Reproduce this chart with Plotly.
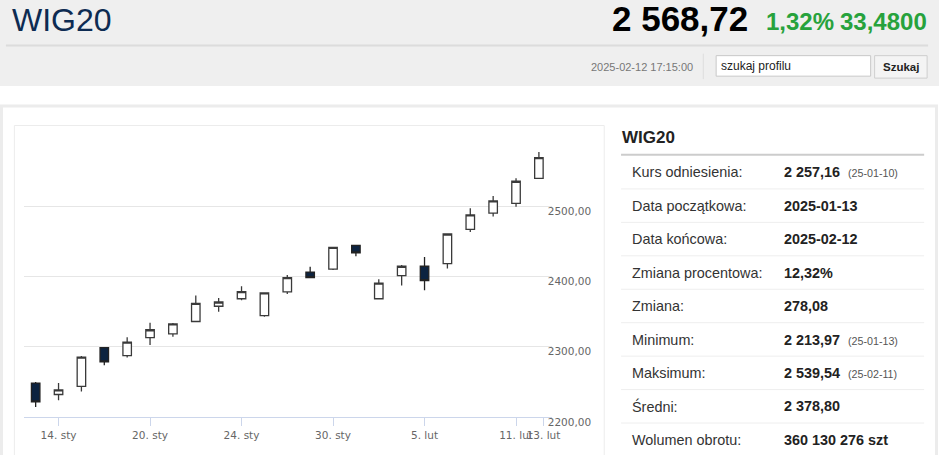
import plotly.graph_objects as go

# WIG20 daily candles, 2025-01-13 .. 2025-02-12
dates = ["2025-01-13", "2025-01-14", "2025-01-15", "2025-01-16", "2025-01-17",
         "2025-01-20", "2025-01-21", "2025-01-22", "2025-01-23", "2025-01-24",
         "2025-01-27", "2025-01-28", "2025-01-29", "2025-01-30", "2025-01-31",
         "2025-02-03", "2025-02-04", "2025-02-05", "2025-02-06", "2025-02-07",
         "2025-02-10", "2025-02-11", "2025-02-12"]
open_ = [2248.2, 2231.9, 2243.5, 2298.6, 2287.1, 2312.9, 2318.1, 2335.7, 2357.4, 2368.1,
         2344.0, 2377.8, 2406.0, 2410.2, 2444.0, 2368.1, 2401.0, 2414.3, 2418.1, 2466.7,
         2489.9, 2503.7, 2539.3]
high = [2249.5, 2248.2, 2286.5, 2299.5, 2313.5, 2333.8, 2333.5, 2372.6, 2369.0, 2385.7,
        2377.0, 2401.8, 2413.5, 2442.0, 2444.5, 2395.8, 2416.2, 2427.4, 2461.0, 2496.8,
        2514.3, 2539.54, 2576.8]
low = [2213.97, 2223.6, 2236.1, 2273.6, 2284.7, 2302.4, 2313.9, 2335.0, 2349.6, 2366.0,
       2342.6, 2375.0, 2397.5, 2409.0, 2428.7, 2367.0, 2387.1, 2380.1, 2411.1, 2462.9,
       2485.1, 2499.0, 2538.8]
close = [2221.3, 2238.5, 2285.1, 2278.2, 2306.5, 2324.0, 2332.4, 2361.5, 2363.5, 2378.2,
         2376.4, 2398.2, 2398.2, 2441.2, 2433.3, 2390.3, 2414.3, 2394.0, 2460.2, 2487.5,
         2507.4, 2535.24, 2568.72]

x_tick_pos = [1, 5, 9, 13, 17, 21, 22.2]
x_tick_text = ["14. sty", "20. sty", "24. sty", "30. sty", "5. lut", "11. lut", "13. lut"]
y_tick_vals = [2200, 2300, 2400, 2500, 2600]
y_tick_text = ["2200,00", "2300,00", "2400,00", "2500,00", ""]

# header
index_name = "WIG20"
last_value = "2 568,72"
change_pct = "1,32%"
change_abs = "33,4800"
timestamp = "2025-02-12 17:15:00"

# side panel
panel_labels = ["Kurs odniesienia:", "Data początkowa:", "Data końcowa:", "Zmiana procentowa:",
                "Zmiana:", "Minimum:", "Maksimum:", "Średni:", "Wolumen obrotu:"]
panel_values = ["2 257,16", "2025-01-13", "2025-02-12", "12,32%", "278,08",
                "2 213,97", "2 539,54", "2 378,80", "360 130 276 szt"]
panel_notes = ["(25-01-10)", "", "", "", "", "(25-01-13)", "(25-02-11)", "", ""]

W, H = 948, 466


def px(x):
    return x / W


def py(y):
    return 1 - y / H


xs = list(range(len(dates)))

fig = go.Figure(go.Candlestick(
    x=xs, open=open_, high=high, low=low, close=close,
    increasing=dict(fillcolor="white", line=dict(color="#3a3a3a", width=1.3)),
    decreasing=dict(fillcolor="#0c2340", line=dict(color="#222222", width=1.3)),
    whiskerwidth=0,
    showlegend=False,
))

shapes = []
# header band
shapes.append(dict(type="rect", xref="paper", yref="paper", x0=0, x1=1, y0=py(88), y1=1,
                   fillcolor="#efefef", line_width=0, layer="below"))
shapes.append(dict(type="line", xref="paper", yref="paper", x0=px(6), x1=px(937), y0=py(46.5), y1=py(46.5),
                   line=dict(color="#dcdcdc", width=2), layer="below"))
shapes.append(dict(type="line", xref="paper", yref="paper", x0=px(710), x1=px(710), y0=py(55), y1=py(81),
                   line=dict(color="#dddddd", width=1), layer="below"))
# search box + button
shapes.append(dict(type="rect", xref="paper", yref="paper", x0=px(723), x1=px(879), y0=py(78), y1=py(57),
                   fillcolor="white", line=dict(color="#c8c8c8", width=1), layer="below"))
shapes.append(dict(type="rect", xref="paper", yref="paper", x0=px(883), x1=px(936), y0=py(80), y1=py(57),
                   fillcolor="#f4f4f4", line=dict(color="#cfcfcf", width=1), layer="below"))
# outer container (open at the bottom edge)
shapes.append(dict(type="path", xref="paper", yref="paper",
                   path=f"M {px(1.5)},0 L {px(1.5)},{py(108.5)} L {px(945.5)},{py(108.5)} L {px(945.5)},0",
                   line=dict(color="#ececec", width=3), layer="below"))
# chart box
shapes.append(dict(type="path", xref="paper", yref="paper",
                   path=f"M {px(14.5)},0 L {px(14.5)},{py(128.5)} L {px(610)},{py(128.5)} L {px(610)},0",
                   line=dict(color="#ececec", width=1), layer="below"))
# panel separators
shapes.append(dict(type="line", xref="paper", yref="paper", x0=px(627), x1=px(933), y0=py(158.5), y1=py(158.5),
                   line=dict(color="#cccccc", width=2), layer="below"))
for i in range(len(panel_labels) - 1):
    yy = 193.5 + i * 34.25
    shapes.append(dict(type="line", xref="paper", yref="paper", x0=px(627), x1=px(933), y0=py(yy), y1=py(yy),
                       line=dict(color="#eeeeee", width=1), layer="below"))

ann = []
ff = "Liberation Sans, Arial, sans-serif"
ann.append(dict(text=index_name, x=px(10), y=py(20), xanchor="left", yanchor="middle",
                font=dict(family=ff, size=32, color="#0d2b52")))
ann.append(dict(text="<b>" + last_value + "</b>", x=px(757), y=py(19), xanchor="right", yanchor="middle",
                font=dict(family=ff, size=35, color="#000000")))
ann.append(dict(text="<b>" + change_pct + "</b>", x=px(771), y=py(22), xanchor="left", yanchor="middle",
                font=dict(family=ff, size=24, color="#27a23c")))
ann.append(dict(text="<b>" + change_abs + "</b>", x=px(846), y=py(22), xanchor="left", yanchor="middle",
                font=dict(family=ff, size=24, color="#27a23c")))
ann.append(dict(text=timestamp, x=px(702), y=py(69), xanchor="right", yanchor="middle",
                font=dict(family=ff, size=11, color="#777777")))
ann.append(dict(text="szukaj profilu", x=px(726), y=py(67.5), xanchor="left", yanchor="middle",
                font=dict(family=ff, size=12, color="#222222")))
ann.append(dict(text="<b>Szukaj</b>", x=px(909.5), y=py(68.5), xanchor="center", yanchor="middle",
                font=dict(family=ff, size=11.5, color="#222222")))
ann.append(dict(text="<b>" + index_name + "</b>", x=px(626), y=py(141), xanchor="left", yanchor="middle",
                font=dict(family=ff, size=17, color="#222222")))
for i, (lab, val, note) in enumerate(zip(panel_labels, panel_values, panel_notes)):
    yy = 176.5 + i * 34.25
    ann.append(dict(text=lab, x=px(636), y=py(yy), xanchor="left", yanchor="middle",
                    font=dict(family=ff, size=14.4, color="#333333")))
    ann.append(dict(text="<b>" + val + "</b>", x=px(789), y=py(yy), xanchor="left", yanchor="middle",
                    font=dict(family=ff, size=14.4, color="#222222")))
    if note:
        ann.append(dict(text=note, x=px(854), y=py(yy + 1), xanchor="left", yanchor="middle",
                        font=dict(family=ff, size=10.7, color="#555555")))
for a in ann:
    a.update(xref="paper", yref="paper", showarrow=False)

fig.update_layout(
    width=W, height=H,
    margin=dict(l=0, r=0, t=0, b=0),
    paper_bgcolor="white", plot_bgcolor="white",
    boxgap=0.47,
    shapes=shapes, annotations=ann,
    font=dict(family="DejaVu Sans, Verdana, sans-serif", size=10.5, color="#666666"),
    xaxis=dict(domain=[px(24), px(557)], range=[-0.52, 22.56],
               tickmode="array", tickvals=x_tick_pos, ticktext=x_tick_text, tickangle=0,
               ticks="outside", ticklen=8, tickcolor="#ccd6eb", tickwidth=1,
               showline=True, linecolor="#ccd6eb", linewidth=1,
               showgrid=False, zeroline=False, rangeslider=dict(visible=False),
               tickfont=dict(size=10.5, color="#666666")),
    yaxis=dict(domain=[py(427), py(139)], range=[2200, 2600], side="right",
               tickmode="array", tickvals=y_tick_vals, ticktext=y_tick_text,
               showgrid=True, gridcolor="#e6e6e6", gridwidth=1, zeroline=False,
               ticks="", ticklabelstandoff=-5, ticklabelshift=5,
               tickfont=dict(size=10.5, color="#666666")),
)

# page body has a default 8px margin; drop it so the figure fills the window
fig.write_html(
    "out.html",
    config={"displayModeBar": False},
    post_script="document.body.style.margin='0';"
                "document.body.style.overflow='hidden';"
                "document.documentElement.style.overflow='hidden';",
)
